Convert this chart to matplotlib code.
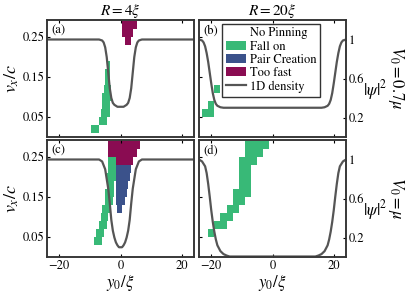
import numpy as np
import matplotlib
matplotlib.use('Agg')
import matplotlib.pyplot as plt
from matplotlib.colors import ListedColormap, BoundaryNorm
from matplotlib.patches import Patch
from matplotlib.lines import Line2D

# ── Outcome maps: (v_x/c row, y0 from, y0 to) ──
vx_rows = [0.02, 0.04, 0.06, 0.08, 0.10, 0.12, 0.14, 0.16, 0.18, 0.20, 0.22, 0.24, 0.26, 0.28]

# (a) R = 4xi, V0 = 0.7 mu
fall_a = [(0.02, -9.5, -7.0), (0.04, -7.0, -4.5), (0.06, -6.5, -3.5), (0.08, -6.0, -3.5),
          (0.10, -6.0, -3.0), (0.12, -5.5, -3.0), (0.14, -5.0, -3.5), (0.16, -5.0, -3.5),
          (0.18, -4.5, -3.5)]
pair_a = []
fast_a = [(0.24, 1.5, 3.5), (0.26, 0.5, 4.0), (0.28, 0.5, 5.5)]

# (b) R = 20xi, V0 = 0.7 mu
fall_b = [(0.06, -23, -19), (0.08, -21, -19), (0.12, -19, -17)]
pair_b = []
fast_b = []

# (c) R = 4xi, V0 = mu
fall_c = [(0.04, -8.5, -6.0), (0.06, -8.0, -5.5), (0.08, -7.0, -4.5), (0.10, -6.5, -4.0),
          (0.12, -6.0, -3.0), (0.14, -5.0, -2.5), (0.16, -5.0, -2.0), (0.18, -4.5, -2.0),
          (0.20, -4.5, -1.5), (0.22, -4.0, -1.5), (0.24, -4.0, -1.5)]
pair_c = [(0.12, -1.0, 0.5), (0.14, -1.5, 1.5), (0.16, -1.5, 2.0), (0.18, -1.5, 2.5),
          (0.20, -1.5, 3.0), (0.22, -1.5, 3.5)]
fast_c = [(0.24, -1.5, 4.0), (0.26, -4.0, 5.5), (0.28, -4.0, 6.5)]

# (d) R = 20xi, V0 = mu
fall_d = [(0.06, -21, -19), (0.08, -19, -15), (0.10, -17, -13), (0.12, -15, -11),
          (0.14, -13, -9), (0.16, -13, -7), (0.18, -11, -7), (0.20, -11, -7),
          (0.22, -11, -7), (0.24, -11, -5), (0.26, -9, -3), (0.28, -9, -1)]
pair_d = []
fast_d = []

# ── 1D density profiles ──
dens_a_y = [-24, -7, -6, -5.5, -5, -4.5, -4, -3.5, -3, -2.5, -2, -1, 0,
            1, 2, 2.5, 3, 3.5, 4, 4.5, 5, 5.5, 6, 7, 24]
dens_a_n = [1, 1, 0.99, 0.97, 0.92, 0.82, 0.66, 0.5, 0.4, 0.35, 0.33, 0.31, 0.31,
            0.31, 0.33, 0.35, 0.4, 0.5, 0.66, 0.82, 0.92, 0.97, 0.99, 1, 1]
dens_b_y = [-24, -23, -22.5, -22, -21.5, -21, -20.5, -20, -19.5, -19, -18.5, -18, -17, -16,
            16, 17, 18, 18.5, 19, 19.5, 20, 20.5, 21, 21.5, 22, 22.5, 23, 24]
dens_b_n = [1, 0.99, 0.97, 0.93, 0.86, 0.77, 0.66, 0.55, 0.45, 0.38, 0.34, 0.32, 0.305, 0.3,
            0.3, 0.305, 0.32, 0.34, 0.38, 0.45, 0.55, 0.66, 0.77, 0.86, 0.93, 0.97, 0.99, 1]
dens_c_y = [-24, -7, -6, -5, -4.5, -4, -3.5, -3, -2.5, -2, -1.5, -1, -0.5, 0,
            0.5, 1, 1.5, 2, 2.5, 3, 3.5, 4, 4.5, 5, 6, 7, 24]
dens_c_n = [1, 1, 0.98, 0.9, 0.8, 0.7, 0.55, 0.38, 0.27, 0.2, 0.15, 0.12, 0.1, 0.1,
            0.1, 0.12, 0.15, 0.2, 0.27, 0.38, 0.55, 0.7, 0.8, 0.9, 0.98, 1, 1]
dens_d_y = [-24, -23, -22, -21.5, -21, -20.5, -20, -19.5, -19, -18.5, -18, -17, -16, -15, -14,
            14, 15, 16, 17, 18, 18.5, 19, 19.5, 20, 20.5, 21, 21.5, 22, 23, 24]
dens_d_n = [1, 0.98, 0.93, 0.86, 0.75, 0.62, 0.48, 0.36, 0.26, 0.18, 0.12, 0.06, 0.03, 0.015, 0.005,
            0.005, 0.015, 0.03, 0.06, 0.12, 0.18, 0.26, 0.36, 0.48, 0.62, 0.75, 0.86, 0.93, 0.98, 1]

c_fall = '#38b977'
c_pair = '#3b528b'
c_fast = '#8a0c52'
c_line = '#555555'

plt.rcParams.update({'font.family': 'STIXGeneral', 'mathtext.fontset': 'stix', 'font.size': 9,
                     'xtick.direction': 'in', 'ytick.direction': 'in',
                     'xtick.major.size': 2.5, 'ytick.major.size': 2.5,
                     'axes.linewidth': 1.1, 'axes.edgecolor': '#333333'})

cmap = ListedColormap([c_fall, c_pair, c_fast])
norm = BoundaryNorm([0.5, 1.5, 2.5, 3.5], 3)


def outcome_grid(dy, fall, pair, fast):
    y_c = np.arange(-24 + dy / 2 if dy < 1 else -24, 24.01, dy)
    vx_c = np.array(vx_rows)
    grid = np.zeros((len(vx_c), len(y_c)))
    for code, rows in ((1, fall), (2, pair), (3, fast)):
        for v, lo, hi in rows:
            i = int(np.argmin(np.abs(vx_c - v)))
            grid[i, (y_c > lo) & (y_c < hi)] = code
    return y_c, vx_c, np.ma.masked_equal(grid, 0)


W, H = 415, 295
fig = plt.figure(figsize=(W / 100, H / 100), dpi=100)
boxes = {'a': (47, 20), 'b': (199, 20), 'c': (47, 140), 'd': (199, 140)}
aw, ah = 147, 117

panels = [
    ('a', 0.5, fall_a, pair_a, fast_a, dens_a_y, dens_a_n),
    ('b', 2, fall_b, pair_b, fast_b, dens_b_y, dens_b_n),
    ('c', 0.5, fall_c, pair_c, fast_c, dens_c_y, dens_c_n),
    ('d', 2, fall_d, pair_d, fast_d, dens_d_y, dens_d_n),
]

axes = {}
for key, dy, fall, pair, fast, dn_y, dn_n in panels:
    x0, y0 = boxes[key]
    ax = fig.add_axes([x0 / W, (H - y0 - ah) / H, aw / W, ah / H])
    y_c, vx_c, grid = outcome_grid(dy, fall, pair, fast)
    ax.pcolormesh(y_c, vx_c, grid, cmap=cmap, norm=norm, shading='nearest')
    ax.set_xlim(-24, 24)
    ax.set_ylim(0, 0.292)
    ax.set_xticks([-20, 0, 20])
    ax.set_yticks([0.05, 0.15, 0.25])
    ax.tick_params(top=True, right=True, labelsize=9, pad=2)
    ax.text(0.03, 0.96, f'({key})', transform=ax.transAxes, ha='left', va='top', fontsize=9)

    ax2 = ax.twinx()
    ax2.plot(dn_y, dn_n, color=c_line, lw=1.6)
    ax2.set_ylim(0, 1.2)
    ax2.set_xlim(-24, 24)
    if key in ('b', 'd'):
        ax2.set_yticks([0.2, 0.6, 1.0])
        ax2.set_yticklabels(['0.2', '0.6', '1'])
        ax2.tick_params(direction='in', labelsize=9, pad=2, length=2.5)
        ax2.set_ylabel(r'$|\psi|^2$', fontsize=12, rotation=0, labelpad=2)
        ax2.yaxis.set_label_coords(1.2, 0.5)
        ax.set_yticklabels([])
    else:
        ax2.set_yticks([])
        ax.set_ylabel(r'$v_x/c$', fontsize=13, labelpad=1)
    if key in ('a', 'b'):
        ax.set_xticklabels([])
    else:
        ax.set_xlabel(r'$y_0/\xi$', fontsize=12, labelpad=1)
    axes[key] = ax

axes['a'].set_title(r'$R = 4\xi$', fontsize=11, pad=3)
axes['b'].set_title(r'$R = 20\xi$', fontsize=11, pad=3)

fig.text(396 / W, 1 - 78 / H, r'$V_0 = 0.7\mu$', rotation=270, ha='center', va='center', fontsize=12)
fig.text(396 / W, 1 - 198 / H, r'$V_0 = \mu$', rotation=270, ha='center', va='center', fontsize=12)

handles = [Patch(facecolor='white', edgecolor='none', label='No Pinning'),
           Patch(facecolor=c_fall, label='Fall on'),
           Patch(facecolor=c_pair, label='Pair Creation'),
           Patch(facecolor=c_fast, label='Too fast'),
           Line2D([0], [0], color=c_line, lw=1.6, label='1D density')]
leg = axes['b'].legend(handles=handles, loc='upper center', bbox_to_anchor=(0.49, 0.97),
                       fontsize=9, frameon=True, fancybox=False, framealpha=1,
                       edgecolor='#333333', handlelength=1.6, handleheight=0.7,
                       handletextpad=0.3, borderpad=0.3, labelspacing=0.12, borderaxespad=0)
leg.get_frame().set_linewidth(1.0)
leg.set_zorder(10)

fig.savefig('out.png', dpi=100)
